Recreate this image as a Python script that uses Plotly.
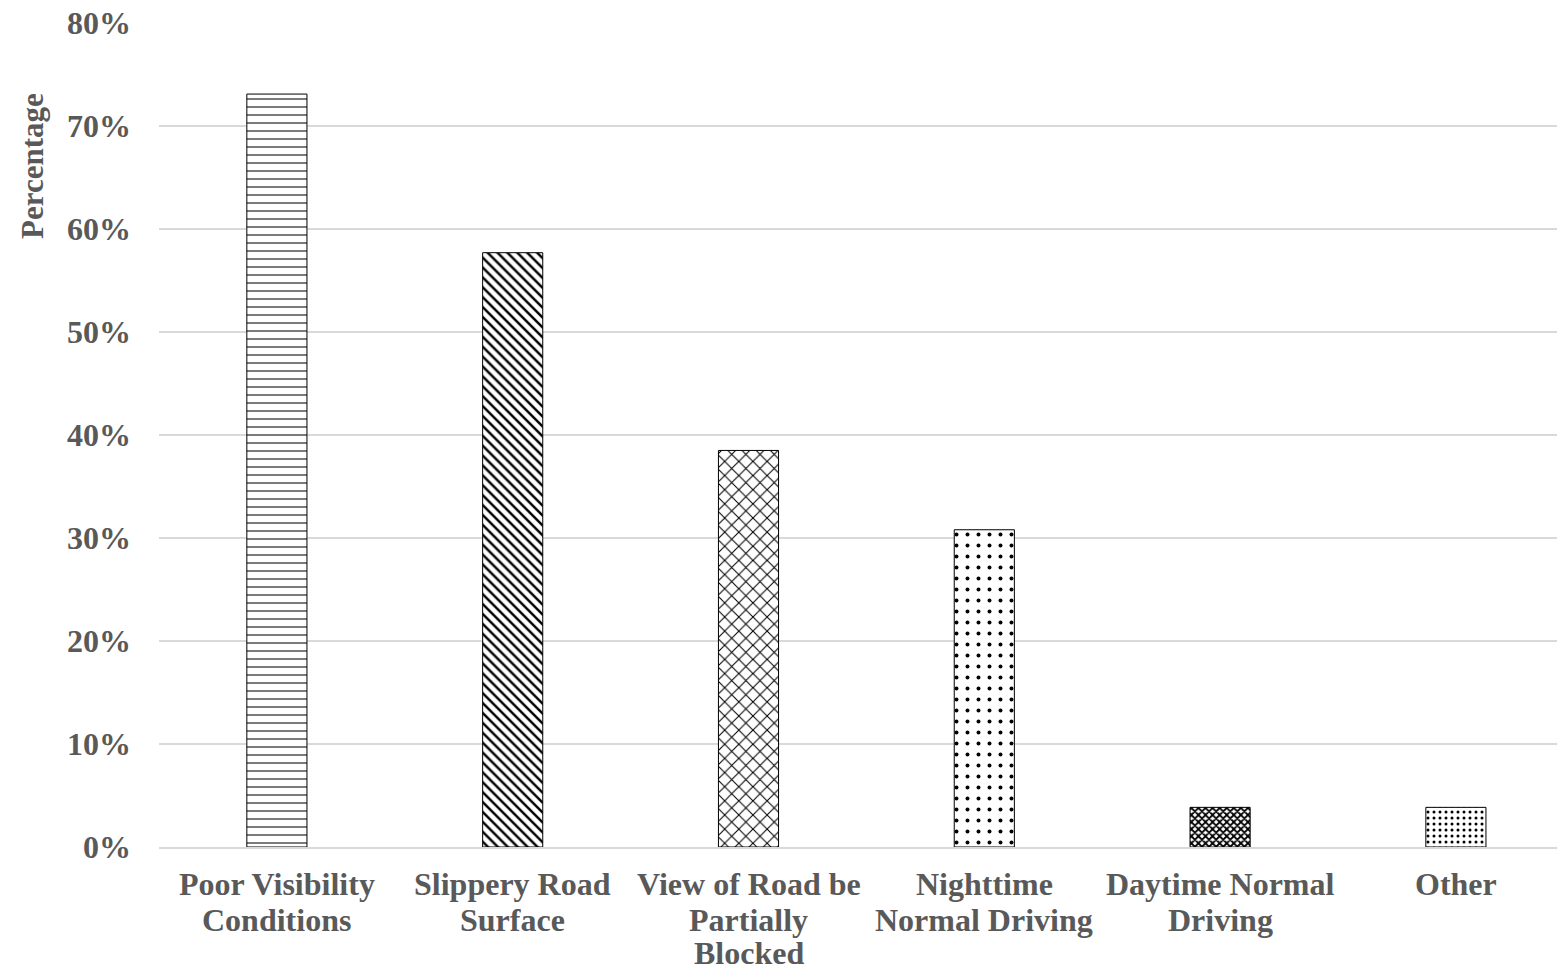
import plotly.graph_objects as go

categories = ["Poor Visibility<br>Conditions", "Slippery Road<br>Surface", "View of Road be<br>Partially<br>Blocked",
              "Nighttime<br>Normal Driving", "Daytime Normal<br>Driving", "Other"]
values = [0.731, 0.577, 0.385, 0.308, 0.0385, 0.0385]
pattern_shapes = ["-", "\\", "x", ".", "x", "."]
pattern_sizes = [8, 7, 10, 11, 5, 6]
pattern_solidity = [0.13, 0.35, 0.2, 0.1, 0.6, 0.2]
tick_vals = [0, 0.1, 0.2, 0.3, 0.4, 0.5, 0.6, 0.7, 0.8]

font_family = "Liberation Serif, Times New Roman, serif"
grey = "#595959"
FS = 32

PLOT_LEFT = 159
PLOT_TOP, PLOT_BOTTOM = 23, 847
PLOT_H = PLOT_BOTTOM - PLOT_TOP
PLOT_W = 1557 - PLOT_LEFT
CAT_W = 235.8  # px per category (chart continues past right edge in reference)

fig = go.Figure()
fig.add_trace(go.Bar(
    x=categories,
    y=values,
    marker=dict(
        color="white",
        line=dict(color="black", width=1),
        pattern=dict(shape=pattern_shapes, size=pattern_sizes, solidity=pattern_solidity,
                     fgcolor="black", bgcolor="white", fillmode="replace"),
    ),
))

fig.update_layout(
    width=1557, height=970,
    margin=dict(l=PLOT_LEFT, r=0, t=PLOT_TOP, b=970 - PLOT_BOTTOM, autoexpand=False),
    paper_bgcolor="white", plot_bgcolor="white",
    bargap=0.745,
    showlegend=False,
    font=dict(family=font_family, size=FS, color=grey),
)
fig.update_xaxes(
    range=[-0.5, -0.5 + PLOT_W / CAT_W],
    showline=True, linecolor="#d9d9d9", linewidth=2,
    showticklabels=False, ticks="", automargin=False,
)
fig.update_yaxes(
    range=[0, 0.8], tickvals=tick_vals, tickformat=".0%",
    showgrid=True, gridcolor="#d9d9d9", gridwidth=2, zeroline=False,
    tickfont=dict(family=font_family, size=FS, color=grey, weight="bold"),
    ticklabelstandoff=27, automargin=False,
)

# category labels, one annotation per line (tight line spacing as in reference)
line_centers = [884, 920, 953]
for cat in categories:
    for i, line in enumerate(cat.split("<br>")):
        fig.add_annotation(
            text=line, x=cat, xref="x", y=(PLOT_BOTTOM - line_centers[i]) / PLOT_H, yref="paper",
            xanchor="center", yanchor="middle", showarrow=False,
            font=dict(family=font_family, size=FS, color=grey, weight="bold"),
        )

fig.add_annotation(
    text="Percentage", textangle=-90, xref="paper", yref="paper",
    x=(33 - PLOT_LEFT) / PLOT_W, y=(PLOT_BOTTOM - 166) / PLOT_H, xanchor="center", yanchor="middle",
    showarrow=False, font=dict(family=font_family, size=31, color=grey, weight="bold"),
)

fig.write_html("out.html", config={"displayModeBar": False},
               post_script="document.body.style.margin='0';document.body.style.overflow='hidden';")
